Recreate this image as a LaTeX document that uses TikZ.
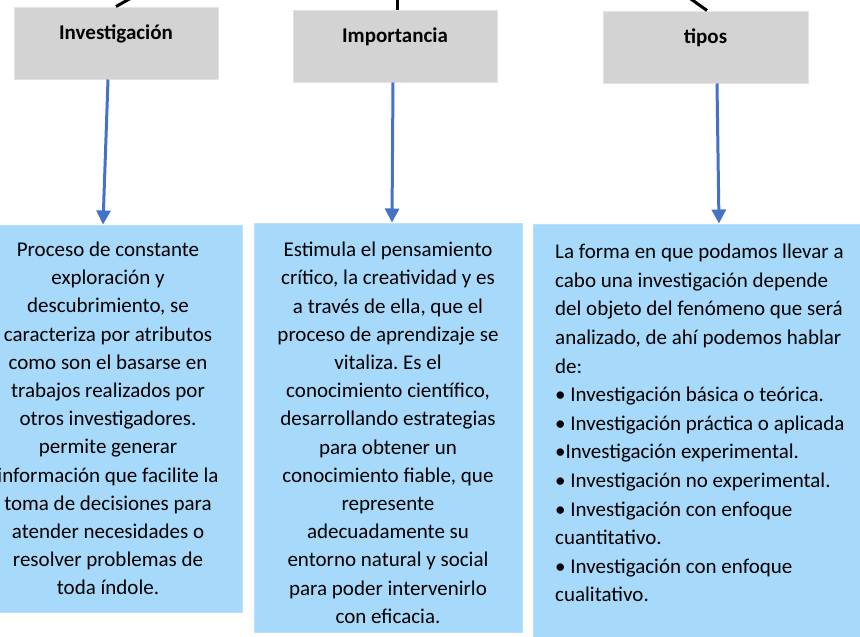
\documentclass[tikz,border=0pt]{standalone}
\usepackage{fontspec}
\setmainfont{Carlito}
\usepackage{tikz}
\usetikzlibrary{arrows.meta}
\definecolor{titlegray}{HTML}{D3D3D3}
\definecolor{titleedge}{HTML}{E4E4E4}
\definecolor{boxblue}{HTML}{A6D9FA}
\definecolor{boxedge}{HTML}{B8E2FC}
\definecolor{arrowblue}{HTML}{4472C4}
\frenchspacing

\begin{document}
\begin{tikzpicture}[x=1pt, y=-1pt,
    title/.style={fill=titlegray, draw=titleedge, line width=1pt, inner sep=0pt,
        minimum width=204pt, text height=32pt, text depth=40pt,
        font=\fontsize{21}{25}\selectfont\bfseries},
    textbox/.style={fill=boxblue, draw=boxedge, line width=1pt, inner sep=4pt,
        minimum width=268pt, text width=260pt, align=flush center,
        font=\fontsize{21}{28.2}\selectfont},
    joiner/.style={line width=3pt},
    flecha/.style={-{Triangle[width=14pt,length=14pt]}, draw=arrowblue, line width=3pt}]
        \useasboundingbox (0,0) rectangle (860,637);
        \clip (0,0) rectangle (860,637);
        % Nodes
        \node[title] (inv) at (116,43) {Investigación};
        \node[title] (imp) at (395,46) {Importancia};
        \node[title, minimum width=205pt] (tipos) at (705.5,47) {tipos};
        \node[textbox, minimum height=387pt] (invdef) at (108,418.5) {Proceso de constante\\
            exploración y\\
            descubrimiento, se\\
            caracteriza por atributos\\
            como son el basarse en\\
            trabajos realizados por\\
            otros investigadores.\\
            permite generar\\
            información que facilite la\\
            toma de decisiones para\\
            atender necesidades o\\
            resolver problemas de\\
            toda índole.};
        \node[textbox, minimum height=409pt] (impdef) at (388,427.5) {\rule{0pt}{25pt}Estimula el pensamiento\\
            crítico, la creatividad y es\\
            a través de ella, que el\\
            proceso de aprendizaje se\\
            vitaliza. Es el\\
            conocimiento científico,\\
            desarrollando estrategias\\
            para obtener un\\
            conocimiento fiable, que\\
            represente\\
            adecuadamente su\\
            entorno natural y social\\
            para poder intervenirlo\\
            con eficacia.};
        \node[textbox, minimum width=372pt, minimum height=456pt] (tiposdef) at (719,452) {};
        \node[font=\fontsize{21}{28.6}\selectfont, text width=320pt, align=flush left, inner sep=0pt,
            anchor=north west] (tipostxt) at (555,244) {La forma en que podamos llevar a\\
            cabo una investigación depende\\
            del objeto del fenómeno que será\\
            analizado, de ahí podemos hablar\\
            de:\\
            • Investigación básica o teórica.\\
            • Investigación práctica o aplicada\\
            •Investigación experimental.\\
            • Investigación no experimental.\\
            • Investigación con enfoque\\
            cuantitativo.\\
            • Investigación con enfoque\\
            cualitativo.};
        \coordinate (invend) at (133,-3);
        \coordinate (impend) at (397,-3);
        \coordinate (tiposend) at (688,-3);
        % Lines
        \draw[joiner] (inv.north) -- (invend);
        \draw[joiner] ([xshift=2pt]imp.north) -- (impend);
        \draw[joiner] ([xshift=1.5pt]tipos.north) -- (tiposend);
        % Arrows
        \draw[flecha] ([xshift=-8pt]inv.south) -- ([xshift=-5pt]invdef.north);
        \draw[flecha] ([xshift=-2pt]imp.south) -- ([xshift=4pt]impdef.north);
        \draw[flecha] ([xshift=11.5pt]tipos.south) -- (tiposdef.north);
\end{tikzpicture}
\end{document}
